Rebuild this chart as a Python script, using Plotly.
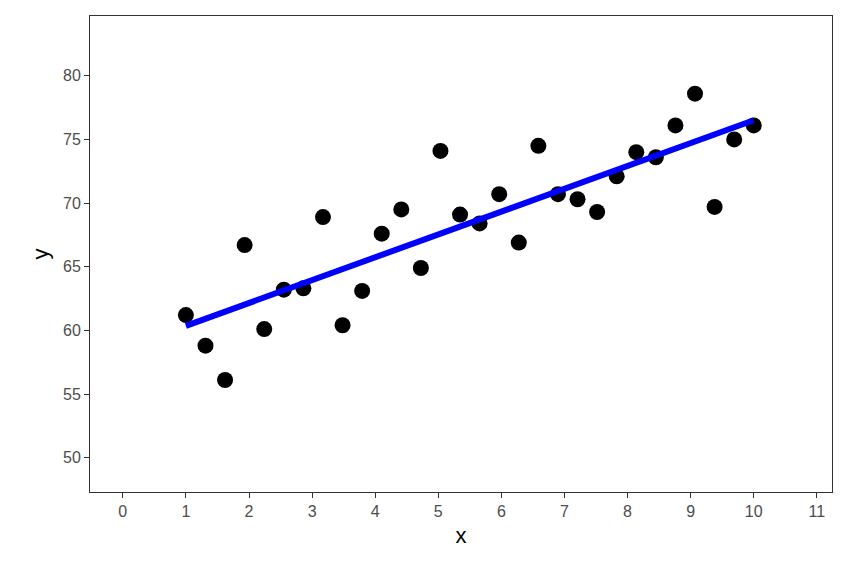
import numpy as np
import plotly.graph_objects as go

x = list(np.linspace(1, 10, 30))
y = [61.2, 58.8, 56.1, 66.7, 60.1, 63.2, 63.3, 68.9, 60.4, 63.1,
     67.6, 69.5, 64.9, 74.1, 69.1, 68.4, 70.7, 66.9, 74.5, 70.7,
     70.3, 69.3, 72.1, 74.0, 73.6, 76.1, 78.6, 69.7, 75.0, 76.1]
x_ticks = list(range(0, 12))
y_ticks = [50, 55, 60, 65, 70, 75, 80]

b, a = np.polyfit(x, y, 1)
xl = [min(x), max(x)]
yl = [a + b * v for v in xl]

fig = go.Figure()
fig.add_trace(go.Scatter(x=x, y=y, mode="markers",
                         marker=dict(color="black", size=16)))
fig.add_trace(go.Scatter(x=xl, y=yl, mode="lines",
                         line=dict(color="#0000FF", width=6)))
ax = dict(showgrid=False, zeroline=False, showline=True, mirror=True,
          linecolor="#333333", linewidth=1, ticks="outside", ticklen=5,
          tickcolor="#333333", tickfont=dict(size=16, color="#4d4d4d"))
fig.update_layout(
    width=864, height=576, showlegend=False,
    plot_bgcolor="white", paper_bgcolor="white",
    font=dict(family="Liberation Sans, Arial", color="black"),
    margin=dict(l=82, r=40, t=8, b=92),
    xaxis=dict(ax, range=[-0.52, 11.24], tickvals=x_ticks,
               title=dict(text="x", font=dict(size=22), standoff=8)),
    yaxis=dict(ax, range=[47.3, 84.7], tickvals=y_ticks,
               title=dict(text="y", font=dict(size=22), standoff=8)),
)
fig.write_html("out.html")
